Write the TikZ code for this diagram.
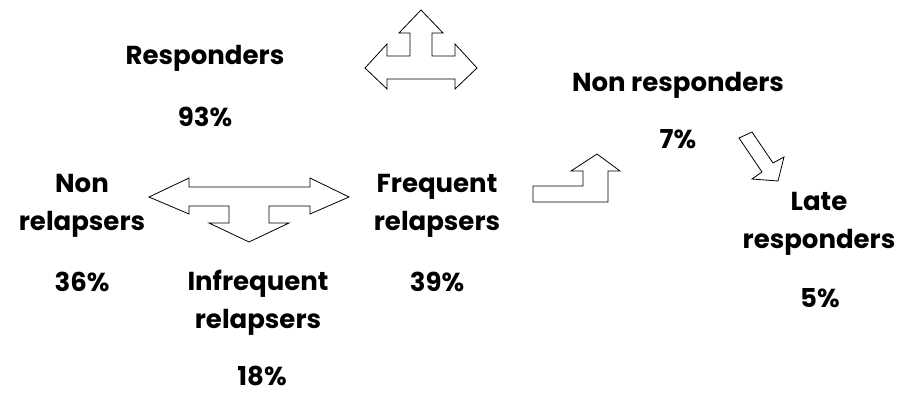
\documentclass[tikz,border=0pt]{standalone}
\usepackage{fontspec}
\setmainfont{Poppins}
\begin{document}
\begin{tikzpicture}[x=1pt,y=-1pt,
		lbl/.style={font=\fontsize{26}{38}\selectfont\bfseries,align=center,inner sep=0pt},
		blockarrow/.style={draw=black,fill=white,line width=0.8pt,line join=miter}]
			\useasboundingbox (0,0) rectangle (898,394);
			\node[lbl] (resp) at (205,58) {Responders};
			\node[lbl] (resppc) at (205,117) {93\%};
			\node[lbl] (nonresp) at (678,85) {Non responders};
			\node[lbl] (nonresppc) at (678,139) {7\%};
			\node[lbl] (nonrel) at (82,206) {Non\\relapsers};
			\node[lbl] (nonrelpc) at (82,282) {36\%};
			\node[lbl] (infreq) at (258,303) {Infrequent\\relapsers};
			\node[lbl] (infreqpc) at (262,376) {18\%};
			\node[lbl] (freq) at (437,206) {Frequent\\relapsers};
			\node[lbl] (freqpc) at (437,282) {39\%};
			\node[lbl] (late) at (819,224) {Late\\responders};
			\node[lbl] (latepc) at (820,298) {5\%};
			\draw[blockarrow] (365,68) -- (387,44) -- (387,56) -- (410,56) -- (410,33) -- (399,33) -- (421,10) -- (443,33) -- (432,33) -- (432,56) -- (455,56) -- (455,44) -- (477,68) -- (455,89) -- (455,79) -- (387,79) -- (387,89) -- cycle;
			\draw[blockarrow] (149,197) -- (189,178) -- (189,187) -- (310,187) -- (310,178) -- (349,197) -- (310,214) -- (310,206) -- (269,206) -- (269,223) -- (289,223) -- (249,242) -- (209,223) -- (229,223) -- (229,206) -- (189,206) -- (189,214) -- cycle;
			\draw[blockarrow] (533,186) -- (583,186) -- (583,171) -- (571,171) -- (597,154) -- (620,171) -- (608,171) -- (608,202) -- (533,202) -- cycle;
			\draw[blockarrow] (739,138) -- (752,132) -- (773,163) -- (784,157) -- (778,181) -- (752,179) -- (762,172) -- cycle;
		\end{tikzpicture}
\end{document}
